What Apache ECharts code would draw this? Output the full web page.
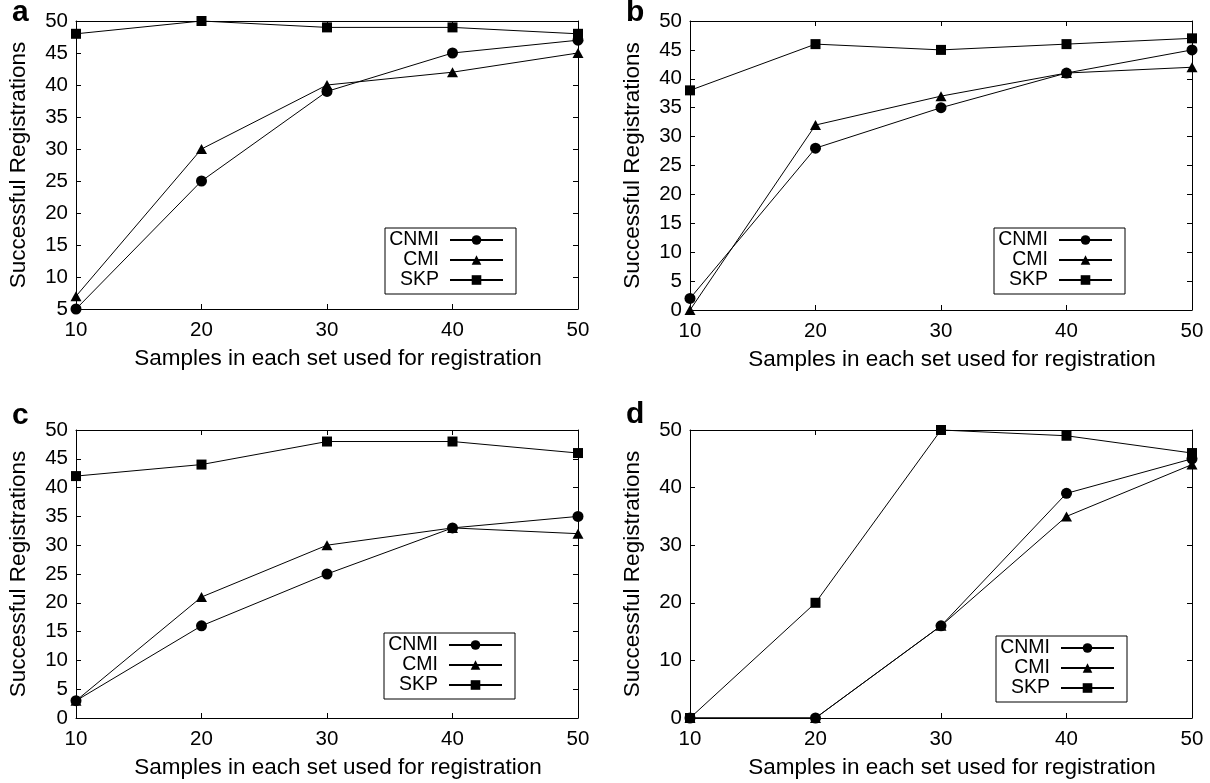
<!DOCTYPE html>
<html><head><meta charset="utf-8">
<script src="https://cdn.jsdelivr.net/npm/echarts@6/dist/echarts.min.js"></script>
<style>html,body{margin:0;padding:0;background:#fff}#c{width:1210px;height:783px}</style>
</head><body><div id="c"></div>
<script>
// ---- data ----
const samples = [10, 20, 30, 40, 50];
const seriesNames = ['CNMI', 'CMI', 'SKP'];
const aCNMI = [5, 25, 39, 45, 47];
const aCMI  = [7, 30, 40, 42, 45];
const aSKP  = [48, 50, 49, 49, 48];
const bCNMI = [2, 28, 35, 41, 45];
const bCMI  = [0, 32, 37, 41, 42];
const bSKP  = [38, 46, 45, 46, 47];
const cCNMI = [3, 16, 25, 33, 35];
const cCMI  = [3, 21, 30, 33, 32];
const cSKP  = [42, 44, 48, 48, 46];
const dCNMI = [0, 0, 16, 39, 45];
const dCMI  = [0, 0, 16, 35, 44];
const dSKP  = [0, 20, 50, 49, 46];
const panelLetters = ['a', 'b', 'c', 'd'];
const yMin = [5, 0, 0, 0];
const yMax = [50, 50, 50, 50];
const yStep = [5, 5, 5, 10];
const xTitle = 'Samples in each set used for registration';
const yTitle = 'Successful Registrations';

// ---- layout / style ----
const FONT = 'Liberation Sans';
const panels = [
  {vals: [aCNMI, aCMI, aSKP], grid: {left: 76, top: 21, width: 502, height: 288}, legend: {left: 385, top: 228}, letter: {x: 12, y: 26}},
  {vals: [bCNMI, bCMI, bSKP], grid: {left: 690, top: 21, width: 502, height: 289}, legend: {left: 994, top: 228}, letter: {x: 626, y: 26}},
  {vals: [cCNMI, cCMI, cSKP], grid: {left: 76, top: 430, width: 502, height: 288}, legend: {left: 384, top: 633}, letter: {x: 12, y: 429}},
  {vals: [dCNMI, dCMI, dSKP], grid: {left: 690, top: 430, width: 502, height: 288}, legend: {left: 996, top: 636}, letter: {x: 626, y: 428}}
];
const symbols = ['circle', 'triangle', 'rect'];
const symbolSizes = [11, [11, 10], 10];

const axisLine = {show: true, onZero: false, lineStyle: {color: '#000', width: 1}};
const axisTick = {show: true, inside: true, length: 5, lineStyle: {color: '#000', width: 1}};
const labelStyle = {color: '#000', fontSize: 20.5, fontFamily: FONT};
const nameStyle = {color: '#000', fontSize: 22.5, fontFamily: FONT};

const option = {
  animation: false,
  backgroundColor: '#fff',
  grid: [], xAxis: [], yAxis: [], series: [], legend: [], graphic: []
};

panels.forEach((p, i) => {
  option.grid.push(Object.assign({containLabel: false}, p.grid));
  option.xAxis.push({
    gridIndex: i, type: 'value', min: 10, max: 50, interval: 10, position: 'bottom',
    axisLine, axisTick, splitLine: {show: false},
    axisLabel: Object.assign({margin: 11}, labelStyle),
    name: xTitle, nameLocation: 'middle', nameGap: 38,
    nameTextStyle: Object.assign({padding: [0, 0, 0, 22]}, nameStyle)
  });
  option.xAxis.push({
    gridIndex: i, type: 'value', min: 10, max: 50, interval: 10, position: 'top',
    axisLine, axisTick, splitLine: {show: false}, axisLabel: {show: false}
  });
  option.yAxis.push({
    gridIndex: i, type: 'value', min: yMin[i], max: yMax[i], interval: yStep[i], position: 'left',
    axisLine, axisTick, splitLine: {show: false},
    axisLabel: Object.assign({margin: 8}, labelStyle),
    name: yTitle, nameLocation: 'middle', nameGap: 46, nameTextStyle: nameStyle
  });
  option.yAxis.push({
    gridIndex: i, type: 'value', min: yMin[i], max: yMax[i], interval: yStep[i], position: 'right',
    axisLine, axisTick, splitLine: {show: false}, axisLabel: {show: false}
  });
  seriesNames.forEach((nm, k) => {
    option.series.push({
      type: 'line', name: nm, xAxisIndex: 2 * i, yAxisIndex: 2 * i,
      data: samples.map((x, j) => [x, p.vals[k][j]]),
      symbol: symbols[k], symbolSize: symbolSizes[k], showSymbol: true, clip: false,
      itemStyle: {color: '#000'}, lineStyle: {color: '#000', width: 1},
      emphasis: {disabled: true}
    });
  });
  option.legend.push({
    left: p.legend.left, top: p.legend.top, orient: 'vertical', align: 'right',
    data: seriesNames, itemWidth: 53, itemHeight: 12, itemGap: 0,
    borderColor: '#000', borderWidth: 1, padding: [2, 12, 4, 4], selectedMode: false,
    formatter: '{t|{name}}',
    textStyle: {rich: {t: {width: 50, align: 'right', fontSize: 19.5, lineHeight: 20, fontFamily: FONT, color: '#000', padding: [0, 6, 0, 0]}}}
  });
  option.graphic.push({
    type: 'text', left: p.letter.x, top: p.letter.y - 28,
    style: {text: panelLetters[i], font: 'bold 30px "' + FONT + '"', fill: '#000'}
  });
});

const chart = echarts.init(document.getElementById('c'), null, {renderer: 'canvas'});
chart.setOption(option);
</script>
</body></html>
